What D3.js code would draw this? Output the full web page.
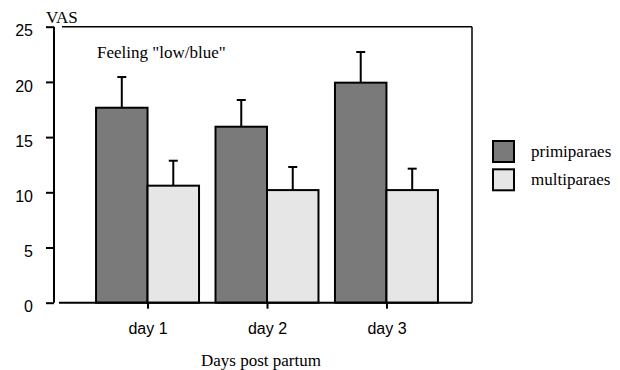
<!DOCTYPE html>
<html lang="en">
<head>
  <meta charset="UTF-8" />
  <title>Feeling low/blue</title>
  <style>
    html, body { margin: 0; background: #fff; }
    svg { display: block; }
    .tick-label { font-family: "Liberation Sans", Arial, sans-serif; font-size: 16px; fill: #000; }
    .serif { font-family: "Liberation Serif", "Times New Roman", serif; font-size: 17px; fill: #000; }
  </style>
  <script src="https://d3js.org/d3.v7.min.js"></script>
</head>
<body>
  <svg id="chart" width="620" height="370"></svg>
  <script>
    // data
    const days = ["day 1", "day 2", "day 3"];
    const series = ["primiparaes", "multiparaes"];
    const primiparaes = [17.66, 15.94, 19.93];
    const primiErr = [2.78, 2.42, 2.78];
    const multiparaes = [10.6, 10.2, 10.2];
    const multiErr = [2.26, 2.09, 1.94];
    const yTicks = [0, 5, 10, 15, 20, 25];
    const colors = ["#7a7a7a", "#e6e6e6"];

    const svg = d3.select("#chart");

    const plotLeft = 62, plotRight = 472, plotTop = 26.7, plotBottom = 302.7;

    const y = d3.scaleLinear().domain([0, 25]).range([plotBottom, plotTop]);
    const x = d3.scaleBand().domain(days).range([plotLeft, plotRight])
      .paddingInner(0.138).paddingOuter(0.285);
    const xs = d3.scaleBand().domain(series).range([0, x.bandwidth()]);

    const rows = days.map((d, i) => ({
      day: d,
      vals: [
        { s: series[0], v: primiparaes[i], e: primiErr[i] },
        { s: series[1], v: multiparaes[i], e: multiErr[i] }
      ]
    }));

    // frame: top and right
    svg.append("line").attr("x1", plotLeft).attr("x2", plotRight)
      .attr("y1", y(25)).attr("y2", y(25))
      .attr("stroke", "#000").attr("stroke-width", 1.5);
    svg.append("line").attr("x1", plotRight).attr("x2", plotRight)
      .attr("y1", y(25)).attr("y2", y(0))
      .attr("stroke", "#000").attr("stroke-width", 1.5);

    // error bars (drawn first so bars cover the stem base)
    const groups = svg.selectAll("g.day").data(rows).enter().append("g")
      .attr("class", "day")
      .attr("transform", d => `translate(${x(d.day)},0)`);

    groups.selectAll("g.err").data(d => d.vals).enter().append("g")
      .attr("class", "err")
      .each(function (d) {
        const cx = xs(d.s) + xs.bandwidth() / 2;
        const g = d3.select(this);
        g.append("line").attr("x1", cx).attr("x2", cx)
          .attr("y1", y(d.v)).attr("y2", y(d.v + d.e))
          .attr("stroke", "#000").attr("stroke-width", 2);
        g.append("line").attr("x1", cx - 4.5).attr("x2", cx + 4.5)
          .attr("y1", y(d.v + d.e)).attr("y2", y(d.v + d.e))
          .attr("stroke", "#000").attr("stroke-width", 2);
      });

    groups.selectAll("rect").data(d => d.vals).enter().append("rect")
      .attr("x", d => xs(d.s))
      .attr("width", xs.bandwidth())
      .attr("y", d => y(d.v))
      .attr("height", d => y(0) - y(d.v))
      .attr("fill", (d, i) => colors[i])
      .attr("stroke", "#000").attr("stroke-width", 2);

    // y axis
    const yAxis = svg.append("g").attr("transform", "translate(54,0)")
      .call(d3.axisLeft(y).tickValues(yTicks).tickSize(8).tickPadding(13));
    yAxis.select(".domain").attr("d", `M0,${y(0)}V${y(25)}`).attr("stroke-width", 2);
    yAxis.selectAll(".tick line").attr("stroke-width", 2);
    yAxis.selectAll(".tick text").attr("class", "tick-label").attr("y", 4);
    yAxis.attr("font-family", null).attr("font-size", null);

    // x axis
    const xCenter = d3.scalePoint().domain(days)
      .range([x(days[0]) + x.bandwidth() / 2, x(days[2]) + x.bandwidth() / 2]);
    const xAxis = svg.append("g").attr("transform", `translate(0,${y(0)})`)
      .call(d3.axisBottom(xCenter).tickSize(6).tickPadding(14));
    xAxis.select(".domain").attr("d", `M59,0H${plotRight}`).attr("stroke-width", 2);
    xAxis.selectAll(".tick line").attr("stroke-width", 2);
    xAxis.selectAll(".tick text").attr("class", "tick-label");
    xAxis.attr("font-family", null).attr("font-size", null);

    // texts
    svg.append("text").attr("class", "serif").attr("x", 46).attr("y", 23).text("VAS");
    svg.append("text").attr("class", "serif").attr("x", 97).attr("y", 58).text('Feeling "low/blue"');
    svg.append("text").attr("class", "serif").attr("x", 261).attr("y", 366)
      .attr("text-anchor", "middle").text("Days post partum");

    // legend
    const legend = svg.append("g").attr("transform", "translate(493,141)");
    const li = legend.selectAll("g").data(series).enter().append("g")
      .attr("transform", (d, i) => `translate(0,${i * 28.3})`);
    li.append("rect").attr("width", 21).attr("height", 21)
      .attr("fill", (d, i) => colors[i]).attr("stroke", "#000").attr("stroke-width", 2);
    li.append("text").attr("class", "serif").attr("x", 38).attr("y", 16).text(d => d);
  </script>
</body>
</html>
